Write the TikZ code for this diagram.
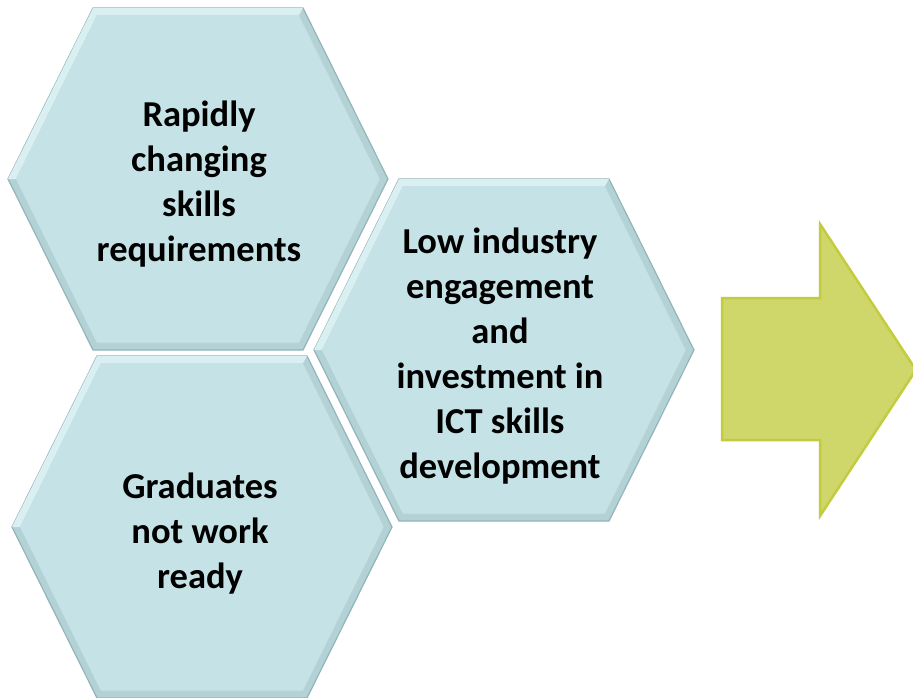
\documentclass[tikz,border=0pt]{standalone}
\usepackage{fontspec}
\setmainfont{Carlito}
\definecolor{hexmain}{HTML}{C5E3E6}
\definecolor{hexband}{HTML}{B3D2D6}
\definecolor{hexlight}{HTML}{DAEFF1}
\definecolor{hexdark}{HTML}{93B4B9}
\definecolor{arrowfill}{HTML}{CFD66A}
\definecolor{arrowline}{HTML}{C3CC3E}
\tikzset{
  hexlabel/.style={align=center,font=\fontsize{36.5}{45}\selectfont\bfseries,text=black},
  hexrim/.style={fill=hexband,draw=hexdark,line width=1.2pt,line join=miter},
  hexface/.style={fill=hexmain},
}
\begin{document}
\begin{tikzpicture}[x=1pt,y=-1pt]
    \useasboundingbox (0,0) rectangle (913,698);

    % three hexagons: centre x / centre y
    \foreach \cx/\cy in {198/179,202/527,504/350} {
        \draw [hexrim] (\cx-190,\cy) -- (\cx-105,\cy-171) -- (\cx+105,\cy-171)
            -- (\cx+190,\cy) -- (\cx+105,\cy+171) -- (\cx-105,\cy+171) -- cycle;
        % light bevel, upper left
        \fill [hexlight] (\cx-190,\cy) -- (\cx-105,\cy-171) -- (\cx+105,\cy-171)
            -- (\cx+101,\cy-164) -- (\cx-101,\cy-164) -- (\cx-182,\cy) -- cycle;
        \fill [hexface] (\cx-182,\cy) -- (\cx-101,\cy-164) -- (\cx+101,\cy-164)
            -- (\cx+182,\cy) -- (\cx+101,\cy+164) -- (\cx-101,\cy+164) -- cycle;
        \draw [hexdark!60,line width=0.6pt] (\cx+101,\cy-164) -- (\cx+182,\cy)
            -- (\cx+101,\cy+164) -- (\cx-101,\cy+164);
    }

    \node [hexlabel] (rapid) at (199,184) {Rapidly\\changing\\skills\\requirements};
    \node [hexlabel] (grad)  at (200,534) {Graduates\\not work\\ready};
    \node [hexlabel] (lowind) at (500,356) {Low industry\\engagement\\and\\investment in\\ICT skills\\development};

    % big arrow on the right
    \draw [fill=arrowfill,draw=arrowline,line width=2.5pt,line join=miter]
        (722,298) -- (820,298) -- (820,224) -- (916,370) -- (820,516)
        -- (820,440) -- (722,440) -- cycle;
\end{tikzpicture}
\end{document}
